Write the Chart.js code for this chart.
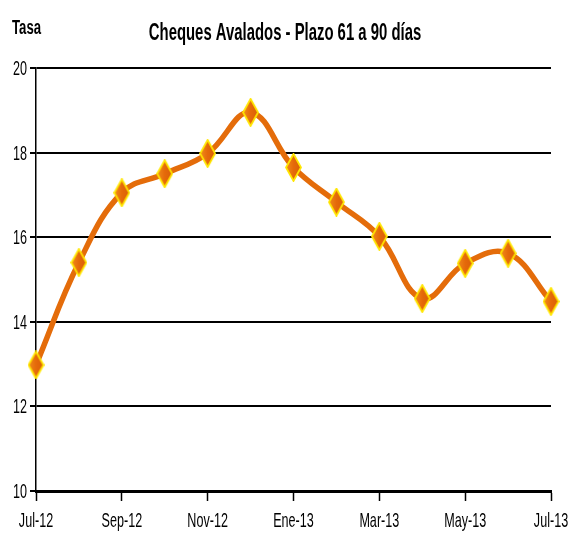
<!DOCTYPE html>
<html><head><meta charset="utf-8">
<script src="https://cdn.jsdelivr.net/npm/chart.js@4/dist/chart.umd.min.js"></script>
<style>html,body{margin:0;padding:0;background:#fff;}#wrap{width:573px;height:543px;}</style>
</head><body><div id="wrap"><canvas id="c" width="573" height="543"></canvas></div>
<script>
const categories = ["Jul-12","Ago-12","Sep-12","Oct-12","Nov-12","Dic-12","Ene-13","Feb-13","Mar-13","Abr-13","May-13","Jun-13","Jul-13"];
const tasa = [12.98, 15.4, 17.05, 17.5, 17.98, 18.95, 17.65, 16.83, 16.02, 14.55, 15.38, 15.62, 14.48];
const yTicks = [10, 12, 14, 16, 18, 20];
const titleText = "Cheques Avalados - Plazo 61 a 90 días";
const yLabel = "Tasa";
const FONT = "'Liberation Sans',Arial,sans-serif";
const SQUEEZE = 0.6;

function diamond(){
  const w=17,h=29,c=document.createElement('canvas');c.width=w;c.height=h;
  const g=c.getContext('2d');
  g.beginPath();g.moveTo(w/2,1);g.lineTo(w-1,h/2);g.lineTo(w/2,h-1);g.lineTo(1,h/2);g.closePath();
  const gr=g.createLinearGradient(0,0,w,0);gr.addColorStop(0,'#F2901E');gr.addColorStop(0.5,'#E56A0A');gr.addColorStop(1,'#D85E08');
  g.fillStyle=gr;g.fill();g.lineWidth=1.8;g.strokeStyle='#FFE600';g.stroke();
  return c;
}
const marker = diamond();

function squeezed(ctx,text,x,y,font,align,sx){
  ctx.save();ctx.font=font;ctx.fillStyle='#000';ctx.textAlign=align;ctx.textBaseline='alphabetic';
  ctx.translate(x,y);ctx.scale(sx,1);ctx.fillText(text,0,0);ctx.restore();
}

const textPlugin = {
  id:'textPlugin',
  afterDraw(chart){
    const ctx=chart.ctx, xs=chart.scales.x, ys=chart.scales.y;
    squeezed(ctx,titleText,285,40,"bold 24px "+FONT,'center',0.62);
    squeezed(ctx,yLabel,12,34,"bold 20px "+FONT,'left',0.66);
    yTicks.forEach(v=>{
      squeezed(ctx,String(v),27,ys.getPixelForValue(v)+7,"21px "+FONT,'right',SQUEEZE);
    });
    categories.forEach((lab,i)=>{
      if(i%2) return;
      squeezed(ctx,lab,xs.getPixelForValue(i),527,"21px "+FONT,'center',SQUEEZE);
    });
  }
};

new Chart(document.getElementById('c'),{
  type:'line',
  data:{labels:categories,datasets:[{
    data:tasa,borderColor:'#E46C0A',borderWidth:5.5,tension:0.4,
    pointStyle:marker,pointRadius:10,pointHoverRadius:10,fill:false
  }]},
  options:{
    responsive:false,animation:false,
    layout:{padding:{left:30,right:22,top:68,bottom:42}},
    plugins:{legend:{display:false},tooltip:{enabled:false},title:{display:false}},
    scales:{
      x:{offset:false,
        grid:{drawOnChartArea:false,drawTicks:true,tickLength:10,tickWidth:1.5,
          color:(c)=> (c.index%2===0?'#000':'rgba(0,0,0,0)')},
        border:{color:'#000',width:3},
        ticks:{display:false,autoSkip:false}},
      y:{min:10,max:20,
        afterBuildTicks:(s)=>{s.ticks=yTicks.map(v=>({value:v}));},
        grid:{color:'#000',lineWidth:2,tickLength:6,drawTicks:true},
        border:{color:'#000',width:1.5},
        ticks:{display:false}}
    }
  },
  plugins:[textPlugin]
});
</script></body></html>
